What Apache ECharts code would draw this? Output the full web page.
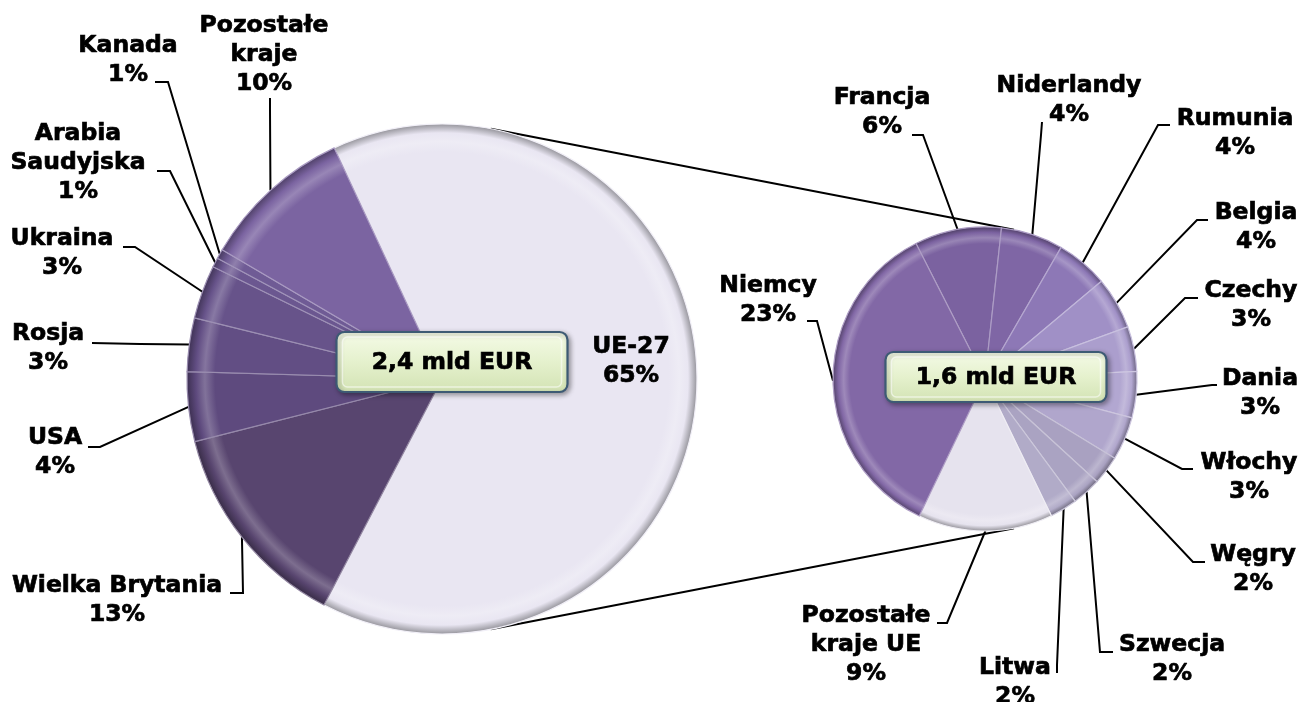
<!DOCTYPE html>
<html>
<head>
<meta charset="utf-8">
<script src="https://cdn.jsdelivr.net/npm/echarts@6/dist/echarts.min.js"></script>
<style>
html,body{margin:0;padding:0;background:#fff;}
#c{width:1301px;height:702px;}
</style>
</head>
<body>
<div id="c"></div>
<script>
// ---- data (percent of total exports) ----
var mainNames = ['UE-27', 'Wielka Brytania', 'USA', 'Rosja', 'Ukraina', 'Arabia\nSaudyjska', 'Kanada', 'Pozostałe\nkraje'];
var mainValues = [64.6, 13.4, 4.4, 3.4, 3.4, 0.6, 0.6, 9.6];
var euNames = ['Francja', 'Niderlandy', 'Rumunia', 'Belgia', 'Czechy', 'Dania', 'Włochy', 'Węgry', 'Szwecja', 'Litwa', 'Pozostałe\nkraje UE', 'Niemcy'];
var euValues = [6.0, 4.3, 3.6, 3.6, 3.1, 3.2, 3.0, 2.0, 2.0, 1.9, 9.3, 23.0];
var totals = ['2,4 mld EUR', '1,6 mld EUR'];

// ---- styles / layout ----
var mainColors = ['#e9e6f2', '#58456f', '#5e4a7e', '#624e84', '#67538a', '#6b5790', '#6f5b95', '#7b64a1'];
var euColors = ['#7b62a0', '#7f66a5', '#8d78b6', '#a090c6', '#ab9ecd', '#b2a7d1', '#b0a6cc', '#a9a1c1', '#aaa3c2', '#b1abc8', '#e6e3ee', '#8268a6'];
var C1 = [442, 379], R1 = 255;
var C2 = [985, 379], R2 = 152;

// label centres and leader-line points (label side first)
var mainLabelPos = [
  {c: [631, 361], line: null},
  {c: [117, 600], line: [[230, 593], [243, 593]]},
  {c: [55, 452], line: [[88, 447], [100, 447]]},
  {c: [48, 348], line: [[92, 343], [140, 344]]},
  {c: [62, 253], line: [[123, 247], [135, 247]]},
  {c: [78, 163], line: [[157, 171], [170, 171]]},
  {c: [128, 60], line: [[155, 82], [168, 82]]},
  {c: [264, 55], line: [[270, 98], [270, 110]]}
];
var euLabelPos = [
  {c: [882, 112], line: [[912, 135], [923, 135]]},
  {c: [1069, 100], line: [[1042, 122], [1041, 135]]},
  {c: [1235, 133], line: [[1170, 125], [1158, 125]]},
  {c: [1256, 227], line: [[1208, 220], [1197, 220]]},
  {c: [1251, 305], line: [[1198, 298], [1185, 298]]},
  {c: [1260, 393], line: [[1217, 385], [1212, 385]]},
  {c: [1249, 477], line: [[1193, 469], [1182, 469]]},
  {c: [1253, 569], line: [[1205, 562], [1193, 562]]},
  {c: [1172, 659], line: [[1113, 652], [1100, 652]]},
  {c: [1015, 682], line: [[1057, 673], [1057, 665]]},
  {c: [866, 645], line: [[937, 623], [947, 623]]},
  {c: [768, 300], line: [[807, 321], [817, 321]]}
];

function hexToRgb(h) {
  h = h.replace('#', '');
  return [parseInt(h.substr(0, 2), 16), parseInt(h.substr(2, 2), 16), parseInt(h.substr(4, 2), 16)];
}
function mix(h, target, t) {
  var c = hexToRgb(h);
  var r = c.map(function (v, i) { return Math.round(v + (target[i] - v) * t); });
  return 'rgb(' + r.join(',') + ')';
}
function bevel(color, center, r) {
  return {
    type: 'radial', x: center[0], y: center[1], r: r, global: true,
    colorStops: [
      {offset: 0, color: color},
      {offset: 0.89, color: color},
      {offset: 0.93, color: mix(color, [255, 255, 255], 0.22)},
      {offset: 0.965, color: color},
      {offset: 1, color: mix(color, [0, 0, 0], 0.35)}
    ]
  };
}

var FONT_FAMILY = '"DejaVu Sans", Verdana, sans-serif';
var font = {fontFamily: FONT_FAMILY, fontWeight: 'bold', fontSize: 23.5, lineHeight: 29, color: '#000',
  textBorderColor: '#000', textBorderWidth: 0.7};

function buildData(names, values, colors, center, r, hideLineIdx) {
  return names.map(function (n, i) {
    var d = {
      name: n, value: values[i],
      itemStyle: {color: bevel(colors[i], center, r), borderColor: mix(colors[i], [255, 255, 255], 0.35), borderWidth: 1.2}
    };
    if (i === hideLineIdx) d.labelLine = {show: false};
    return d;
  });
}

function makeLayout(pos) {
  return function (params) {
    var p = pos[params.dataIndex];
    var out = {x: p.c[0], y: p.c[1], align: 'center', verticalAlign: 'middle'};
    if (p.line && params.labelLinePoints) {
      var start = params.labelLinePoints[0];
      out.labelLinePoints = [[start[0], start[1]], p.line[1], p.line[0]];
    }
    return out;
  };
}

function pct(p) { return p.name + '\n' + Math.round(p.value) + '%'; }

var chart = echarts.init(document.getElementById('c'), null, {renderer: 'canvas'});

function edgePt(c, r, deg) {
  var a = deg * Math.PI / 180;
  return [c[0] + r * Math.cos(a), c[1] - r * Math.sin(a)];
}
var t1 = edgePt(C1, R1, 79), t2 = edgePt(C2, R2, 79);
var b1 = edgePt(C1, R1, -79), b2 = edgePt(C2, R2, -79);

function box(text, cx, cy, w, h) {
  return [
    {type: 'rect', z: 100, shape: {x: cx - w / 2, y: cy - h / 2, width: w, height: h, r: 8},
      style: {fill: new echarts.graphic.LinearGradient(0, 0, 0, 1, [
        {offset: 0, color: '#f5fbe8'}, {offset: 0.5, color: '#e5f1cd'}, {offset: 1, color: '#d2e2b3'}]),
        stroke: '#3d5a74', lineWidth: 2.2, shadowBlur: 5, shadowOffsetX: 2, shadowOffsetY: 2, shadowColor: 'rgba(0,0,0,0.35)'}},
    {type: 'rect', z: 101, shape: {x: cx - w / 2 + 6, y: cy - h / 2 + 5, width: w - 12, height: h - 10, r: 5},
      style: {fill: 'rgba(255,255,255,0)', stroke: 'rgba(255,255,255,0.55)', lineWidth: 1.5}},
    {type: 'text', z: 102, x: cx, y: cy + 1, style: {text: text, x: 0, y: 0, align: 'center', verticalAlign: 'middle',
      font: 'bold 23.5px ' + FONT_FAMILY, fill: '#000', stroke: '#000', lineWidth: 0.7}}
  ];
}

chart.setOption({
  animation: false,
  backgroundColor: '#fff',
  graphic: [
    {type: 'line', z: 1, shape: {x1: t1[0], y1: t1[1], x2: t2[0], y2: t2[1]}, style: {stroke: '#000', lineWidth: 2}},
    {type: 'line', z: 1, shape: {x1: b1[0], y1: b1[1], x2: b2[0], y2: b2[1]}, style: {stroke: '#000', lineWidth: 2}}
  ].concat(box(totals[0], C1[0] + 10, C1[1] - 17, 231, 60))
   .concat(box(totals[1], C2[0] + 11, C2[1] - 2, 221, 50)),
  series: [
    {
      type: 'pie', center: C1, radius: R1, startAngle: 115, clockwise: true,
      avoidLabelOverlap: false, z: 2,
      label: Object.assign({show: true, position: 'outside', formatter: pct}, font),
      labelLine: {show: true, lineStyle: {color: '#000', width: 2}},
      labelLayout: makeLayout(mainLabelPos),
      emphasis: {disabled: true},
      data: buildData(mainNames, mainValues, mainColors, C1, R1, 0)
    },
    {
      type: 'pie', center: C2, radius: R2, startAngle: 117, clockwise: true,
      avoidLabelOverlap: false, z: 2,
      label: Object.assign({show: true, position: 'outside', formatter: pct}, font),
      labelLine: {show: true, lineStyle: {color: '#000', width: 2}},
      labelLayout: makeLayout(euLabelPos),
      emphasis: {disabled: true},
      data: buildData(euNames, euValues, euColors, C2, R2, -1)
    }
  ]
});
</script>
</body>
</html>
